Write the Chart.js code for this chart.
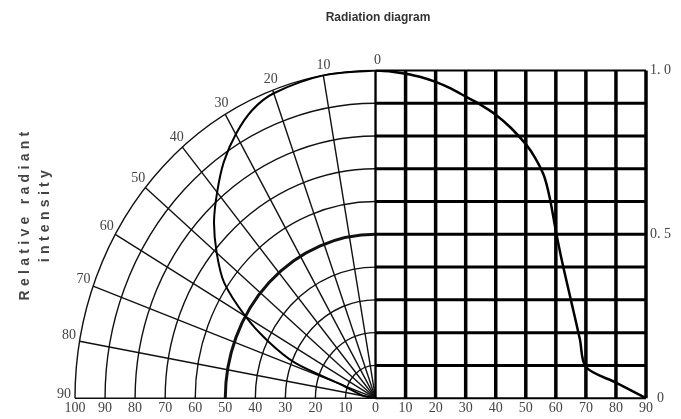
<!DOCTYPE html>
<html>
<head>
<meta charset="utf-8">
<title>Radiation diagram</title>
<script src="https://cdn.jsdelivr.net/npm/chart.js@4.4.1/dist/chart.umd.min.js"></script>
<style>
  html, body { margin: 0; padding: 0; background: #fff; }
  #wrap { width: 681px; height: 419px; }
</style>
</head>
<body>
<div id="wrap"><canvas id="radChart"></canvas></div>
<script>
// right half: angle (deg) -> relative radiant intensity
const angles    = [0, 5, 10, 15, 20, 25, 30, 35, 40, 45, 50, 53, 56, 58, 60, 62, 65, 68, 70, 80, 90];
const intensity = [1.0, 0.997, 0.99, 0.98, 0.965, 0.945, 0.92, 0.895, 0.865, 0.825, 0.775, 0.735, 0.68, 0.61, 0.51, 0.42, 0.30, 0.18, 0.095, 0.0475, 0];

// left half: the polar curve
const polarAngles    = [0, 10, 20, 25, 30, 35, 40, 45, 50, 55, 60, 64, 68, 70, 80, 90];
const polarIntensity = [1.0, 1.0, 0.99, 0.97, 0.93, 0.88, 0.82, 0.76, 0.69, 0.615, 0.5, 0.4, 0.29, 0.12, 0.04, 0];

// polar grid
const rings       = [10, 20, 30, 40, 50, 60, 70, 80, 90, 100];
const spokes      = [0, 10, 20, 30, 40, 50, 60, 70, 80, 90];
const angleLabels = ['0', '10', '20', '30', '40', '50', '60', '70', '80', '90'];

// cartesian grid
const gridX = [0, 10, 20, 30, 40, 50, 60, 70, 80, 90];
const gridY = [0, 0.1, 0.2, 0.3, 0.4, 0.5, 0.6, 0.7, 0.8, 0.9, 1.0];

// axis ticks
const xTicks      = [-100, -90, -80, -70, -60, -50, -40, -30, -20, -10, 0, 10, 20, 30, 40, 50, 60, 70, 80, 90];
const xTickLabels = ['100', '90', '80', '70', '60', '50', '40', '30', '20', '10', '0', '10', '20', '30', '40', '50', '60', '70', '80', '90'];
const yTicks      = [0, 0.5, 1.0];
const yTickLabels = ['0', '0. 5', '1. 0'];

const SERIF = "'Liberation Serif', 'DejaVu Serif', serif";
const SANS  = "'Liberation Sans', Arial, sans-serif";

const rad = a => a * Math.PI / 180;

const polarPoints = polarAngles.map((a, i) => ({
  x: -polarIntensity[i] * 100 * Math.sin(rad(a)),
  y: polarIntensity[i] * Math.cos(rad(a))
}));
const cartPoints = angles.map((a, i) => ({ x: a, y: intensity[i] }));

const diagramGrid = {
  id: 'diagramGrid',
  beforeDatasetsDraw(chart) {
    const { ctx, scales: { x, y } } = chart;
    const cx = x.getPixelForValue(0);
    const cy = y.getPixelForValue(0);
    const rx = r => cx - x.getPixelForValue(-r);
    const ry = r => cy - y.getPixelForValue(r / 100);

    ctx.save();
    ctx.strokeStyle = '#111';

    rings.forEach(r => {
      ctx.lineWidth = r === 50 ? 3 : 1.4;
      ctx.beginPath();
      ctx.ellipse(cx, cy, rx(r), ry(r), 0, Math.PI, 1.5 * Math.PI);
      ctx.stroke();
    });

    ctx.lineWidth = 1.4;
    spokes.forEach(a => {
      ctx.beginPath();
      ctx.moveTo(cx, cy);
      ctx.lineTo(cx - rx(100) * Math.sin(rad(a)), cy - ry(100) * Math.cos(rad(a)));
      ctx.stroke();
    });

    // right half grid
    ctx.strokeStyle = '#000';
    const top = y.getPixelForValue(1), bottom = y.getPixelForValue(0);
    const left = x.getPixelForValue(0), right = x.getPixelForValue(90);
    gridY.forEach(v => {
      ctx.lineWidth = (v === 0 || v === 1) ? 2 : 3;
      const py = y.getPixelForValue(v);
      ctx.beginPath();
      ctx.moveTo(left, py);
      ctx.lineTo(right, py);
      ctx.stroke();
    });
    gridX.forEach(v => {
      ctx.lineWidth = v === 0 ? 2.2 : 3.5;
      const px = x.getPixelForValue(v);
      ctx.beginPath();
      ctx.moveTo(px, top);
      ctx.lineTo(px, bottom);
      ctx.stroke();
    });

    // angle labels round the outer ring
    ctx.fillStyle = '#444';
    ctx.font = '14px ' + SERIF;
    ctx.textAlign = 'center';
    ctx.textBaseline = 'middle';
    spokes.forEach((a, i) => {
      const s = Math.sin(rad(a)), c = Math.cos(rad(a));
      const px = cx - rx(100) * s - 11 * s + 2 * c;
      const py = cy - ry(100) * c - 10 * c - 4 * s;
      ctx.fillText(angleLabels[i], px, py);
    });
    ctx.restore();
  },
  afterDraw(chart) {
    const { ctx } = chart;
    ctx.save();
    ctx.fillStyle = '#444';
    ctx.font = 'bold 14px ' + SANS;
    ctx.letterSpacing = '4.3px';
    ctx.textAlign = 'center';
    ctx.textBaseline = 'middle';
    ctx.translate(25, 214);
    ctx.rotate(-Math.PI / 2);
    ctx.fillText('Relative radiant', 0, 0);
    ctx.fillText('intensity', 0, 20);
    ctx.restore();
  }
};

new Chart(document.getElementById('radChart'), {
  type: 'scatter',
  data: {
    datasets: [
      {
        label: 'polar',
        data: polarPoints,
        showLine: true,
        borderColor: '#000',
        borderWidth: 2,
        pointRadius: 0,
        tension: 0.3
      },
      {
        label: 'cartesian',
        data: cartPoints,
        showLine: true,
        borderColor: '#000',
        borderWidth: 2.5,
        pointRadius: 0,
        tension: 0.3
      }
    ]
  },
  options: {
    responsive: true,
    maintainAspectRatio: false,
    animation: false,
    layout: { padding: { left: 75, right: 0, top: 0, bottom: 0 } },
    plugins: {
      legend: { display: false },
      tooltip: { enabled: false },
      title: {
        display: true,
        text: 'Radiation diagram',
        color: '#333',
        font: { family: SANS, size: 12, weight: 'bold' },
        padding: { top: 10, bottom: 46 }
      }
    },
    scales: {
      x: {
        type: 'linear',
        min: -100,
        max: 90,
        grid: { display: false, drawTicks: false },
        border: { display: false },
        afterBuildTicks: s => { s.ticks = xTicks.map(v => ({ value: v })); },
        ticks: {
          autoSkip: false,
          maxRotation: 0,
          padding: 2,
          color: '#444',
          font: { family: SERIF, size: 14 },
          callback: (v, i) => xTickLabels[i]
        }
      },
      y: {
        type: 'linear',
        position: 'right',
        min: 0,
        max: 1,
        grid: { display: false, drawTicks: false },
        border: { display: false },
        afterBuildTicks: s => { s.ticks = yTicks.map(v => ({ value: v })); },
        afterFit: s => { s.width = 35; },
        ticks: {
          padding: 4,
          crossAlign: 'center',
          color: '#444',
          font: { family: SERIF, size: 14 },
          callback: (v, i) => yTickLabels[i]
        }
      }
    }
  },
  plugins: [diagramGrid]
});
</script>
</body>
</html>
